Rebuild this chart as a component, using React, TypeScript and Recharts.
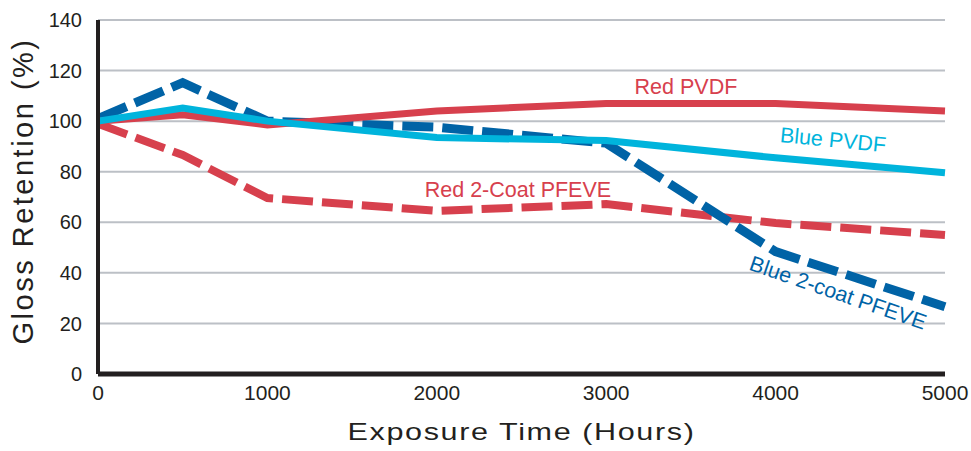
import { LineChart, Line, XAxis, YAxis, CartesianGrid, ReferenceDot } from 'recharts';

const hours = [0, 500, 1000, 2000, 3000, 4000, 5000];
const redPvdf = [100, 102.5, 98.5, 104, 107, 107, 104];
const bluePvdf = [100, 105.2, 100, 93.5, 92.3, 85.5, 79.6];
const red2Coat = [99, 86.6, 69.6, 64.5, 67.2, 59.7, 55];
const blue2Coat = [101, 115.2, 100, 97.6, 91.3, 48.4, 26.6];

const xTicks = [0, 1000, 2000, 3000, 4000, 5000];
const yTicks = [0, 20, 40, 60, 80, 100, 120, 140];

// series annotations: [text, x, y, rotation, colour]
const notes: [string, number, number, number, string][] = [
  ['Red PVDF', 3471, 113.5, 0, '#d7404d'],
  ['Blue PVDF', 4339, 92.5, 5.5, '#00b4dc'],
  ['Red 2-Coat PFEVE', 2479, 72.8, 0, '#d7404d'],
  ['Blue 2-coat PFEVE', 4368, 32, 19, '#0063a6'],
];

const data = hours.map((h, i) => ({
  h,
  redPvdf: redPvdf[i],
  bluePvdf: bluePvdf[i],
  red2Coat: red2Coat[i],
  blue2Coat: blue2Coat[i],
}));

const FONT = "'Liberation Sans', Arial, Helvetica, sans-serif";

function NoteLabel({ viewBox, text, rot, color }: any) {
  const cx = viewBox.x + (viewBox.width || 0) / 2;
  const cy = viewBox.y + (viewBox.height || 0) / 2;
  return (
    <text
      x={cx}
      y={cy}
      textAnchor="middle"
      dominantBaseline="central"
      fill={color}
      fontSize={21.5}
      fontFamily={FONT}
      transform={`rotate(${rot} ${cx} ${cy})`}
    >
      {text}
    </text>
  );
}

function YTitle({ viewBox }: any) {
  const cx = viewBox.x + 22.5;
  const cy = viewBox.y + viewBox.height / 2 - 6;
  return (
    <text
      x={cx}
      y={cy}
      textAnchor="middle"
      dominantBaseline="central"
      fill="#231f20"
      fontSize={29}
      fontFamily={FONT}
      letterSpacing={2.5}
      transform={`rotate(-90 ${cx} ${cy})`}
    >
      Gloss Retention (%)
    </text>
  );
}

// wide-set axis title, stretched horizontally like the original artwork
function XTitle({ viewBox }: any) {
  const cx = viewBox.x + viewBox.width / 2;
  const by = viewBox.y + viewBox.height - 11;
  return (
    <text
      x={0}
      y={0}
      textAnchor="middle"
      fill="#231f20"
      fontSize={23}
      fontFamily={FONT}
      letterSpacing={1.2}
      transform={`translate(${cx} ${by}) scale(1.33 1)`}
    >
      Exposure Time (Hours)
    </text>
  );
}

export default function App() {
  return (
    <div style={{ position: 'absolute', left: 0, top: 0, width: 971, height: 451, background: '#fff' }}>
      <LineChart
        width={971}
        height={451}
        data={data}
        margin={{ top: 20, right: 26, left: 0, bottom: 0 }}
      >
        <CartesianGrid
          vertical={false}
          stroke="#bcc0c6"
          strokeWidth={2}
          horizontalValues={[20, 40, 60, 80, 100, 120, 140]}
        />
        <XAxis
          dataKey="h"
          type="number"
          domain={[0, 5000]}
          ticks={xTicks}
          tickLine={false}
          tickSize={0}
          tickMargin={11}
          height={77}
          axisLine={{ stroke: '#231f20', strokeWidth: 5 }}
          tick={{ fill: '#231f20', fontSize: 21, fontFamily: FONT }}
          label={<XTitle />}
        />
        <YAxis
          type="number"
          domain={[0, 140]}
          ticks={yTicks}
          width={98}
          tickLine={false}
          tickSize={0}
          tickMargin={16}
          axisLine={{ stroke: '#231f20', strokeWidth: 4 }}
          tick={{ fill: '#231f20', fontSize: 20, fontFamily: FONT }}
          label={<YTitle />}
        />
        <Line
          dataKey="red2Coat"
          stroke="#d7404d"
          strokeWidth={8}
          strokeDasharray="31 9"
          dot={false}
          isAnimationActive={false}
        />
        <Line
          dataKey="blue2Coat"
          stroke="#0063a6"
          strokeWidth={9}
          strokeDasharray="31 9"
          dot={false}
          isAnimationActive={false}
        />
        <Line
          dataKey="redPvdf"
          stroke="#d7404d"
          strokeWidth={7}
          dot={false}
          isAnimationActive={false}
        />
        <Line
          dataKey="bluePvdf"
          stroke="#00b4dc"
          strokeWidth={7}
          dot={false}
          isAnimationActive={false}
        />
        {notes.map(([text, x, y, rot, color]) => (
          <ReferenceDot
            key={text}
            x={x}
            y={y}
            r={0}
            fill="none"
            stroke="none"
            label={<NoteLabel text={text} rot={rot} color={color} />}
          />
        ))}
      </LineChart>
    </div>
  );
}
